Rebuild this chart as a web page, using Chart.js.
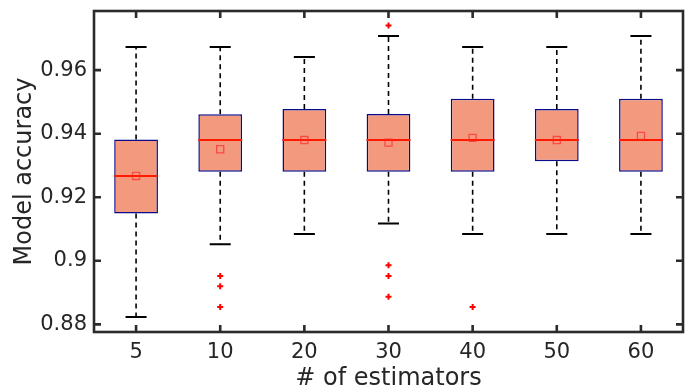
<!DOCTYPE html>
<html>
<head>
<meta charset="utf-8">
<script src="https://cdn.jsdelivr.net/npm/chart.js@4"></script>
<style>
  html, body { margin: 0; padding: 0; background: #fff; }
  #wrap { width: 686px; height: 391px; }
</style>
</head>
<body>
<div id="wrap"><canvas id="box" width="686" height="391"></canvas></div>
<script>
// ── Data ──────────────────────────────────────────────────────────
const CATEGORIES = ['5', '10', '20', '30', '40', '50', '60'];
const Q1      = [0.9149, 0.9280, 0.9280, 0.9280, 0.9280, 0.9313, 0.9280];
const Q3      = [0.9382, 0.9461, 0.9478, 0.9462, 0.9510, 0.9478, 0.9510];
const MEDIAN  = [0.9267, 0.9380, 0.9380, 0.9380, 0.9380, 0.9380, 0.9380];
const MEAN    = [0.9267, 0.9351, 0.9380, 0.9372, 0.9387, 0.9380, 0.9393];
const WHISK_LO = [0.8823, 0.9052, 0.9084, 0.9117, 0.9084, 0.9084, 0.9084];
const WHISK_HI = [0.9673, 0.9673, 0.9641, 0.9707, 0.9673, 0.9673, 0.9707];
const OUTLIERS = [
    { x: '10', y: 0.8952 }, { x: '10', y: 0.8920 }, { x: '10', y: 0.8855 },
    { x: '30', y: 0.9740 }, { x: '30', y: 0.8986 }, { x: '30', y: 0.8952 }, { x: '30', y: 0.8887 },
    { x: '40', y: 0.8855 }
];
const Y_TICKS = [0.88, 0.9, 0.92, 0.94, 0.96];
const Y_TICK_LABELS = ['0.88', '0.9', '0.92', '0.94', '0.96'];
const Y_MIN = 0.8776, Y_MAX = 0.9786;

const FRAME = '#2b2b2b';
const TEXT = '#262626';
const FONT = 'DejaVu Sans';

// ── Whiskers, caps, frame and inward ticks ────────────────────────
const boxExtras = {
    id: 'boxExtras',
    beforeDatasetsDraw(chart) {
        const { ctx, scales: { x, y } } = chart;
        ctx.save();
        CATEGORIES.forEach((c, i) => {
            const px = x.getPixelForValue(i);
            // dashed whiskers
            ctx.strokeStyle = '#000';
            ctx.lineWidth = 1.6;
            ctx.setLineDash([5, 4]);
            ctx.beginPath();
            ctx.moveTo(px, y.getPixelForValue(Q3[i]));
            ctx.lineTo(px, y.getPixelForValue(WHISK_HI[i]));
            ctx.moveTo(px, y.getPixelForValue(Q1[i]));
            ctx.lineTo(px, y.getPixelForValue(WHISK_LO[i]));
            ctx.stroke();
            // caps
            ctx.setLineDash([]);
            ctx.lineWidth = 2;
            const half = x.width / CATEGORIES.length * 0.125;
            ctx.beginPath();
            [WHISK_HI[i], WHISK_LO[i]].forEach(v => {
                const py = y.getPixelForValue(v);
                ctx.moveTo(px - half, py);
                ctx.lineTo(px + half, py);
            });
            ctx.stroke();
        });
        ctx.restore();
    },
    afterDraw(chart) {
        const { ctx, chartArea: a, scales: { x, y } } = chart;
        ctx.save();
        ctx.strokeStyle = FRAME;
        ctx.lineWidth = 2.6;
        ctx.strokeRect(a.left, a.top, a.right - a.left, a.bottom - a.top);
        const len = 7;
        ctx.beginPath();
        Y_TICKS.forEach(v => {
            const py = y.getPixelForValue(v);
            ctx.moveTo(a.left, py); ctx.lineTo(a.left + len, py);
            ctx.moveTo(a.right, py); ctx.lineTo(a.right - len, py);
        });
        CATEGORIES.forEach((c, i) => {
            const px = x.getPixelForValue(i);
            ctx.moveTo(px, a.bottom); ctx.lineTo(px, a.bottom - len);
            ctx.moveTo(px, a.top); ctx.lineTo(px, a.top + len);
        });
        ctx.stroke();
        ctx.restore();
    }
};

new Chart(document.getElementById('box'), {
    data: {
        labels: CATEGORIES,
        datasets: [
            {
                type: 'bar',
                data: Q1.map((q, i) => [q, Q3[i]]),
                backgroundColor: '#F2997E',
                borderColor: '#0a0a8a',
                borderWidth: 1.5,
                borderSkipped: false,
                barPercentage: 0.52,
                categoryPercentage: 1,
                order: 5
            },
            {
                type: 'line',
                data: MEDIAN,
                showLine: false,
                pointStyle: 'line',
                pointRadius: 22,
                borderColor: '#ff1a00',
                borderWidth: 2,
                order: 3
            },
            {
                type: 'line',
                data: MEAN,
                showLine: false,
                pointStyle: 'rect',
                pointRadius: 5,
                backgroundColor: 'rgba(0,0,0,0)',
                borderColor: 'rgba(255,40,40,0.7)',
                borderWidth: 1.3,
                order: 2
            },
            {
                type: 'line',
                data: OUTLIERS,
                showLine: false,
                pointStyle: 'cross',
                pointRadius: 3,
                borderColor: '#ff0000',
                borderWidth: 2,
                order: 1
            }
        ]
    },
    options: {
        responsive: false,
        animation: false,
        events: [],
        layout: { autoPadding: false, padding: { top: 11, right: 3, left: 0, bottom: 0 } },
        plugins: { legend: { display: false }, tooltip: { enabled: false } },
        scales: {
            x: {
                type: 'category',
                offset: true,
                grid: { display: false, drawTicks: false },
                border: { display: false },
                ticks: { color: TEXT, font: { family: FONT, size: 21 }, padding: 8, maxRotation: 0 },
                title: { display: true, text: '# of estimators', color: TEXT, font: { family: FONT, size: 24, lineHeight: 1.0 }, padding: 0 },
                afterFit(s) {
                    s.height = 59;
                    s.paddingLeft = 0; s.paddingRight = 0;
                }
            },
            y: {
                min: Y_MIN,
                max: Y_MAX,
                grid: { display: false, drawTicks: false },
                border: { display: false },
                afterBuildTicks(s) { s.ticks = Y_TICKS.map(v => ({ value: v })); },
                ticks: {
                    color: TEXT, font: { family: FONT, size: 21 }, padding: 7,
                    callback: (v) => Y_TICK_LABELS[Y_TICKS.indexOf(v)]
                },
                title: { display: true, text: 'Model accuracy', color: TEXT, font: { family: FONT, size: 24, lineHeight: 1.0 }, padding: { top: 13, bottom: 0 } },
                afterFit(s) {
                    s.width = 94;
                    s.paddingTop = 0; s.paddingBottom = 0;
                }
            }
        }
    },
    plugins: [boxExtras]
});
</script>
</body>
</html>
